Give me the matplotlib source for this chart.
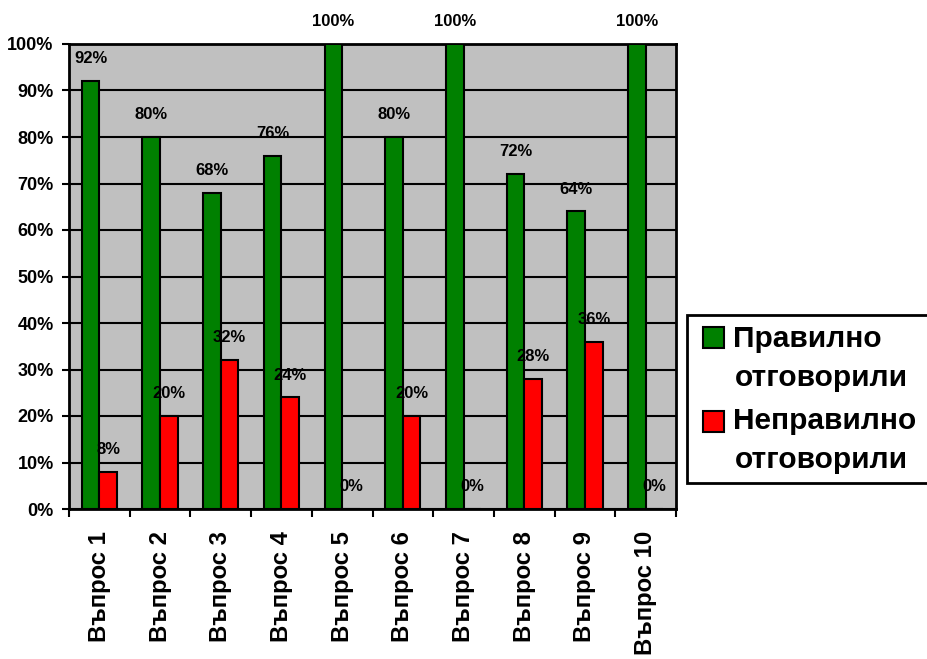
import matplotlib
matplotlib.use("Agg")
import matplotlib.pyplot as plt
from matplotlib.patches import Rectangle
import numpy as np

categories = ["Въпрос 1", "Въпрос 2", "Въпрос 3", "Въпрос 4", "Въпрос 5",
              "Въпрос 6", "Въпрос 7", "Въпрос 8", "Въпрос 9", "Въпрос 10"]
correct = [92, 80, 68, 76, 100, 80, 100, 72, 64, 100]
wrong = [8, 20, 32, 24, 0, 20, 0, 28, 36, 0]
series_names = ["Правилно\nотговорили", "Неправилно\nотговорили"]
series_colors = ["#008000", "#FF0000"]

plt.rcParams["font.family"] = ["Liberation Sans", "DejaVu Sans"]
plt.rcParams["font.weight"] = "bold"

W, H = 928, 659
fig = plt.figure(figsize=(W / 100, H / 100), dpi=100)
ax = fig.add_axes([69 / W, 1 - 509 / H, 607 / W, 465 / H])

x = np.arange(len(categories))
width = 0.29
b1 = ax.bar(x - width / 2, correct, width, color=series_colors[0], edgecolor="black",
            linewidth=1.5, zorder=3)
b2 = ax.bar(x + width / 2, wrong, width, color=series_colors[1], edgecolor="black",
            linewidth=1.5, zorder=3)

for bars, vals in ((b1, correct), (b2, wrong)):
    for rect, v in zip(bars, vals):
        ax.annotate(f"{v}%", (rect.get_x() + rect.get_width() / 2, v),
                    xytext=(0, 16), textcoords="offset points",
                    ha="center", va="center", fontsize=12, fontweight="bold",
                    zorder=5, annotation_clip=False)

ax.set_facecolor("#C0C0C0")
ax.set_xlim(-0.5, len(categories) - 0.5)
ax.set_ylim(0, 100)
ax.set_yticks(np.arange(0, 101, 10))
ax.set_yticklabels([f"{v}%" for v in range(0, 101, 10)], fontsize=13, fontweight="bold")
ax.yaxis.grid(True, color="black", linewidth=1.5, zorder=1)
ax.set_axisbelow(True)

ax.set_xticks(x)
ax.set_xticklabels(categories, rotation=90, fontsize=17.2, fontweight="bold", va="top")
ax.tick_params(axis="x", which="major", length=0, pad=16)
ax.set_xticks(np.arange(-0.5, len(categories), 1), minor=True)
ax.tick_params(axis="x", which="minor", length=6, width=1.5, direction="out")
ax.tick_params(axis="y", length=5, width=1.5, direction="out", pad=6)

for s in ax.spines.values():
    s.set_linewidth(2)
    s.set_color("black")

# legend box, drawn by hand so that each key sits on the first line of its label
def fx(px):
    return px / W

def fy(py):
    return 1 - py / H

fig.patches.append(Rectangle((fx(687), fy(483)), fx(960) - fx(687), fy(315) - fy(483),
                             transform=fig.transFigure, facecolor="white",
                             edgecolor="black", linewidth=2, zorder=1))
key_top = [327, 411]
line_y = [[339, 378], [421, 460]]
for i, name in enumerate(series_names):
    fig.patches.append(Rectangle((fx(703), fy(key_top[i] + 21)), fx(724) - fx(703),
                                 fy(key_top[i]) - fy(key_top[i] + 21),
                                 transform=fig.transFigure, facecolor=series_colors[i],
                                 edgecolor="black", linewidth=1.5, zorder=2))
    for j, part in enumerate(name.split("\n")):
        fig.text(fx(733 if j == 0 else 735), fy(line_y[i][j]), part, fontsize=21.5,
                 fontweight="bold", ha="left", va="center", zorder=3)

fig.savefig("out.png", dpi=100)
